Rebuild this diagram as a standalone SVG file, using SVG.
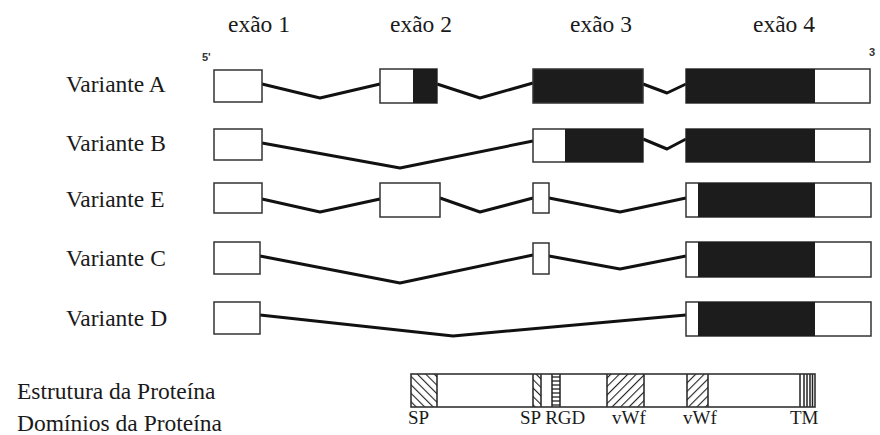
<svg xmlns="http://www.w3.org/2000/svg" width="880" height="435" viewBox="0 0 880 435">
  <defs>
    <style>
      .ex { fill: #fff; stroke: #333; stroke-width: 1.5; }
      .blk { fill: #1c1c1c; }
      .intron { fill: none; stroke: #111; stroke-width: 3; stroke-linejoin: round; }
      .div { stroke: #222; stroke-width: 1.5; }
    </style>
    <!-- "\" hatching -->
    <pattern id="hatchBack" patternUnits="userSpaceOnUse" width="6" height="6" patternTransform="rotate(-45)">
      <rect width="6" height="6" fill="#fff"/>
      <line x1="0" y1="0" x2="0" y2="6" stroke="#222" stroke-width="2.2"/>
    </pattern>
    <!-- "/" hatching -->
    <pattern id="hatchFwd" patternUnits="userSpaceOnUse" width="6" height="6" patternTransform="rotate(45)">
      <rect width="6" height="6" fill="#fff"/>
      <line x1="0" y1="0" x2="0" y2="6" stroke="#222" stroke-width="2.2"/>
    </pattern>
    <pattern id="hstripe" patternUnits="userSpaceOnUse" width="8" height="4">
      <rect width="8" height="4" fill="#fff"/>
      <line x1="0" y1="1" x2="8" y2="1" stroke="#333" stroke-width="1.4"/>
    </pattern>
  </defs>

  <rect width="880" height="435" fill="#fff"/>

  <!-- exon headers -->
  <g id="headers" font-family="'Liberation Serif', 'Times New Roman', serif" font-size="23.5" fill="#1a1a1a">
    <text x="228" y="32">exão 1</text>
    <text x="390" y="32">exão 2</text>
    <text x="570" y="32">exão 3</text>
    <text x="753" y="32">exão 4</text>
  </g>
  <g id="ends" font-family="'Liberation Sans', Arial, sans-serif" font-size="11" font-weight="bold" fill="#333">
    <text x="202" y="61">5'</text>
    <text x="869" y="56">3</text>
  </g>

  <!-- variant names -->
  <g id="variant-labels" font-family="'Liberation Serif', 'Times New Roman', serif" font-size="23.5" fill="#1a1a1a">
    <text x="66" y="92">Variante A</text>
    <text x="66" y="151">Variante B</text>
    <text x="66" y="207">Variante E</text>
    <text x="66" y="266">Variante C</text>
    <text x="66" y="326">Variante D</text>
  </g>

  <!-- introns -->
  <g id="connectors">
    <polyline class="intron" points="262,84 320,98 380,84"/>
    <polyline class="intron" points="437,84 480,98 533,83"/>
    <polyline class="intron" points="643,84 667,93 686,84"/>

    <polyline class="intron" points="262,143 400,168 533,141"/>
    <polyline class="intron" points="643,139 667,149 686,139"/>

    <polyline class="intron" points="262,199 320,212 380,199"/>
    <polyline class="intron" points="440,198 480,212 533,198"/>
    <polyline class="intron" points="549,198 620,212 686,198"/>

    <polyline class="intron" points="260,256 400,283 533,255"/>
    <polyline class="intron" points="549,256 620,269 686,256"/>

    <polyline class="intron" points="260,315 453,336 686,315"/>
  </g>

  <!-- Variante A -->
  <g id="variant-a">
    <rect class="ex" x="214" y="70" width="48" height="32"/>
    <rect class="ex" x="380" y="69" width="57" height="34"/>
    <rect class="blk" x="413" y="69" width="24" height="34"/>
    <rect class="ex blk" x="533" y="69" width="110" height="34"/>
    <rect class="ex" x="686" y="69" width="184" height="34"/>
    <rect class="blk" x="686" y="69" width="129" height="34"/>
  </g>

  <!-- Variante B -->
  <g id="variant-b">
    <rect class="ex" x="214" y="129" width="48" height="31"/>
    <rect class="ex" x="533" y="129" width="110" height="33"/>
    <rect class="blk" x="565" y="129" width="78" height="33"/>
    <rect class="ex" x="686" y="129" width="184" height="33"/>
    <rect class="blk" x="686" y="129" width="129" height="33"/>
  </g>

  <!-- Variante E -->
  <g id="variant-e">
    <rect class="ex" x="214" y="183" width="48" height="30"/>
    <rect class="ex" x="380" y="183" width="60" height="34"/>
    <rect class="ex" x="533" y="183" width="16" height="30"/>
    <rect class="ex" x="686" y="183" width="185" height="34"/>
    <rect class="blk" x="698" y="183" width="117" height="34"/>
  </g>

  <!-- Variante C -->
  <g id="variant-c">
    <rect class="ex" x="214" y="242" width="46" height="32"/>
    <rect class="ex" x="533" y="243" width="16" height="31"/>
    <rect class="ex" x="686" y="242" width="185" height="35"/>
    <rect class="blk" x="698" y="242" width="117" height="35"/>
  </g>

  <!-- Variante D -->
  <g id="variant-d">
    <rect class="ex" x="214" y="302" width="46" height="32"/>
    <rect class="ex" x="686" y="302" width="185" height="34"/>
    <rect class="blk" x="698" y="302" width="117" height="34"/>
  </g>

  <!-- protein structure bar -->
  <g id="protein">
    <rect x="411" y="374" width="404" height="33" fill="#fff"/>
    <rect x="411" y="374" width="26" height="33" fill="url(#hatchBack)"/>
    <rect x="533" y="374" width="8" height="33" fill="url(#hatchBack)"/>
    <rect x="552" y="374" width="8" height="33" fill="url(#hstripe)"/>
    <rect x="607" y="374" width="37" height="33" fill="url(#hatchFwd)"/>
    <rect x="687" y="374" width="21" height="33" fill="url(#hatchFwd)"/>
    <g class="div">
      <line x1="437" y1="374" x2="437" y2="407"/>
      <line x1="533" y1="374" x2="533" y2="407"/>
      <line x1="541" y1="374" x2="541" y2="407"/>
      <line x1="552" y1="374" x2="552" y2="407"/>
      <line x1="560" y1="374" x2="560" y2="407"/>
      <line x1="607" y1="374" x2="607" y2="407"/>
      <line x1="644" y1="374" x2="644" y2="407"/>
      <line x1="687" y1="374" x2="687" y2="407"/>
      <line x1="708" y1="374" x2="708" y2="407"/>
      <line x1="800" y1="374" x2="800" y2="407"/>
      <line x1="804" y1="374" x2="804" y2="407"/>
      <line x1="807" y1="374" x2="807" y2="407"/>
      <line x1="810" y1="374" x2="810" y2="407"/>
      <line x1="812.5" y1="374" x2="812.5" y2="407"/>
    </g>
    <rect x="411" y="374" width="404" height="33" fill="none" stroke="#333" stroke-width="1.6"/>
  </g>

  <!-- bottom captions -->
  <g id="protein-labels" font-family="'Liberation Serif', 'Times New Roman', serif" fill="#1a1a1a">
    <text x="17" y="399" font-size="23.5">Estrutura da Proteína</text>
    <text x="17" y="431" font-size="23.5">Domínios da Proteína</text>
    <g font-size="19">
      <text x="408" y="424">SP</text>
      <text x="520" y="424">SP RGD</text>
      <text x="612" y="424">vWf</text>
      <text x="683" y="424">vWf</text>
      <text x="790" y="424">TM</text>
    </g>
  </g>
</svg>
